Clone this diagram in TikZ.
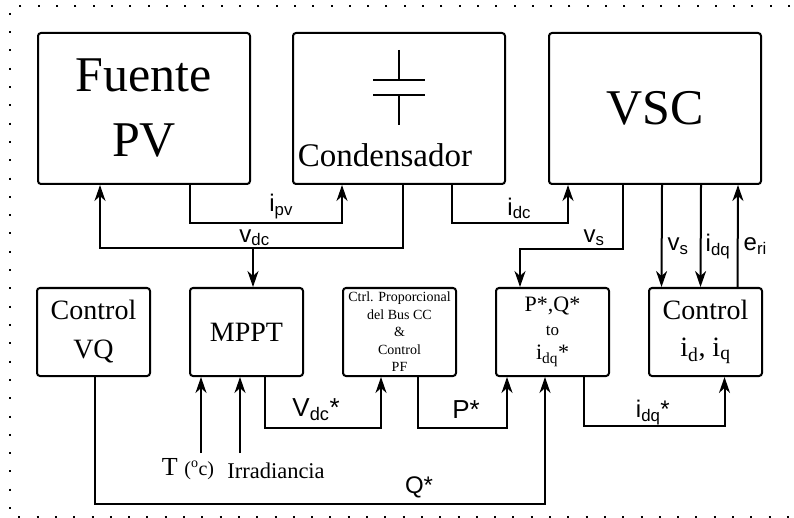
\documentclass[tikz,border=0pt]{standalone}
\usepackage{fontspec}
\setmainfont{Liberation Serif}
\newfontfamily\arialf{Liberation Sans}
\usetikzlibrary{positioning,arrows.meta}

\begin{document}
\begin{tikzpicture}[
		x=1pt, y=-1pt,                             % 按像素取坐标，y 轴向下
		blk/.style={draw, line width=2pt, rounded corners=3pt, align=center, inner sep=0pt},
		bigblk/.style={blk, minimum width=212pt, minimum height=151pt},   % 上排三个大方框
		smallblk/.style={blk, minimum width=113pt, minimum height=88pt,
			font=\fontsize{28}{39}\selectfont},                             % 下排控制方框
		arr/.style={line width=2pt, -{Stealth[length=16pt, width=11pt, inset=5pt]}},
		lbl/.style={font=\arialf\fontsize{24}{24}\selectfont, inner sep=0pt},  % 信号标注
		lblb/.style={lbl, font=\arialf\fontsize{26}{26}\selectfont}
		]
		\useasboundingbox (0,0) rectangle (794,518);
		% 点线外框
		\draw[line width=2pt, dash pattern=on 2pt off 16.3pt] (790,6) -- (10,6) -- (10,517) -- (794,517);
		
		% 上排
		\node[bigblk, font=\fontsize{50}{65}\selectfont] (fuente) at (144,108.5) {Fuente\\PV};
		\node[bigblk, right=41pt of fuente,
		label={[font=\fontsize{33}{33}\selectfont, anchor=base, xshift=-14pt, yshift=18pt]south:Condensador}] (cond) {};
		\node[bigblk, right=42pt of cond, font=\fontsize{50}{50}\selectfont] (vsc) {VSC};
		
		% 电容符号
		\begin{scope}[shift={(cond.center)}, line width=2pt]
			\draw (-26,-28.5) -- (26,-28.5);
			\draw (-26,-13.5) -- (26,-13.5);
			\draw (0,-58.5) -- (0,-28.5);
			\draw (0,-13.5) -- (0,16.5);
		\end{scope}
		
		% 下排
		\node[smallblk] (vq) at (93.5,332) {Control\\VQ};
		\node[smallblk, right=38pt of vq] (mppt) {MPPT};
		\node[smallblk, right=38pt of mppt, font=\fontsize{14}{17.5}\selectfont] (ctrl)
		{Ctrl. Proporcional\\del Bus CC\\\&\\Control\\PF};
		\node[smallblk, right=38pt of ctrl, font=\fontsize{22}{24}\selectfont] (pq)
		{P*,Q*\\{\fontsize{17}{24}\selectfont to}\\i\textsubscript{dq}*};
		\node[smallblk, right=38pt of pq, font=\fontsize{28}{37}\selectfont] (cidq)
		{Control\\i\textsubscript{d}, i\textsubscript{q}};
		
		% 测量输入
		\node[font=\fontsize{26}{26}\selectfont, anchor=base, inner sep=0pt] (temp) at (188,475)
		{T {\fontsize{20}{20}\selectfont(\textsuperscript{o}c)}};
		\node[font=\fontsize{22.5}{22.5}\selectfont, anchor=base, inner sep=0pt] (irr) at (276,478) {Irradiancia};
		\path (mppt.south) ++(-45.5,76) coordinate (tin);
		\path (mppt.south) ++(-6.5,76) coordinate (iin);
		\draw[arr] (tin) -- (tin |- mppt.south);
		\draw[arr] (iin) -- (iin |- mppt.south);
		
		% 直流侧
		\draw[arr] ([xshift=46pt]fuente.south) -- ++(0,38)
		-| node[lbl, pos=0.3, above=3pt] {i\textsubscript{pv}} ([xshift=-57pt]cond.south);
		\draw[arr] ([xshift=4pt]cond.south) -- ++(0,63) coordinate (vdc)
		-| node[lbl, pos=0.245, above=1pt] {v\textsubscript{dc}} ([xshift=-44pt]fuente.south);
		\path (mppt.north) ++(6.5,0) coordinate (mpin);
		\draw[arr] (mpin |- vdc) -- (mpin);
		\draw[arr] ([xshift=53pt]cond.south) -- ++(0,38)
		-| node[lbl, pos=0.29, above=3pt] {i\textsubscript{dc}} ([xshift=-87pt]vsc.south);
		
		% 交流侧测量
		\draw[arr] ([xshift=-32pt]vsc.south) -- ++(0,64)
		-| node[lbl, pos=0.14, above=2pt] {v\textsubscript{s}} ([xshift=-32.5pt]pq.north);
		\draw[arr] ([xshift=7pt]vsc.south) -- node[lbl, pos=0.6, right=5pt] {v\textsubscript{s}} ([xshift=-44pt]cidq.north);
		\draw[arr] ([xshift=46pt]vsc.south) -- node[lbl, pos=0.6, right=4pt] {i\textsubscript{dq}} ([xshift=-5pt]cidq.north);
		\draw[arr] ([xshift=32pt]cidq.north) -- node[lbl, pos=0.4, right=5pt] {e\textsubscript{ri}} ([xshift=83pt]vsc.south);
		
		% 控制链
		\draw[arr] ([xshift=18.5pt]mppt.south) -- ++(0,51)
		-| node[lblb, pos=0.22, above=6pt] {V\textsubscript{dc}*} ([xshift=-18.5pt]ctrl.south);
		\draw[arr] ([xshift=18.5pt]ctrl.south) -- ++(0,51)
		-| node[lblb, pos=0.27, above=9pt] {P*} ([xshift=-45.5pt]pq.south);
		\draw[arr] ([xshift=31.5pt]pq.south) -- ++(0,49)
		-| node[lbl, pos=0.245, above=0pt] {i\textsubscript{dq}*} ([xshift=19pt]cidq.south);
		\draw[arr] ([xshift=1.5pt]vq.south) -- ++(0,127)
		-| node[lbl, pos=0.36, above=5pt] {Q*} ([xshift=-7.5pt]pq.south);
	\end{tikzpicture}
\end{document}
